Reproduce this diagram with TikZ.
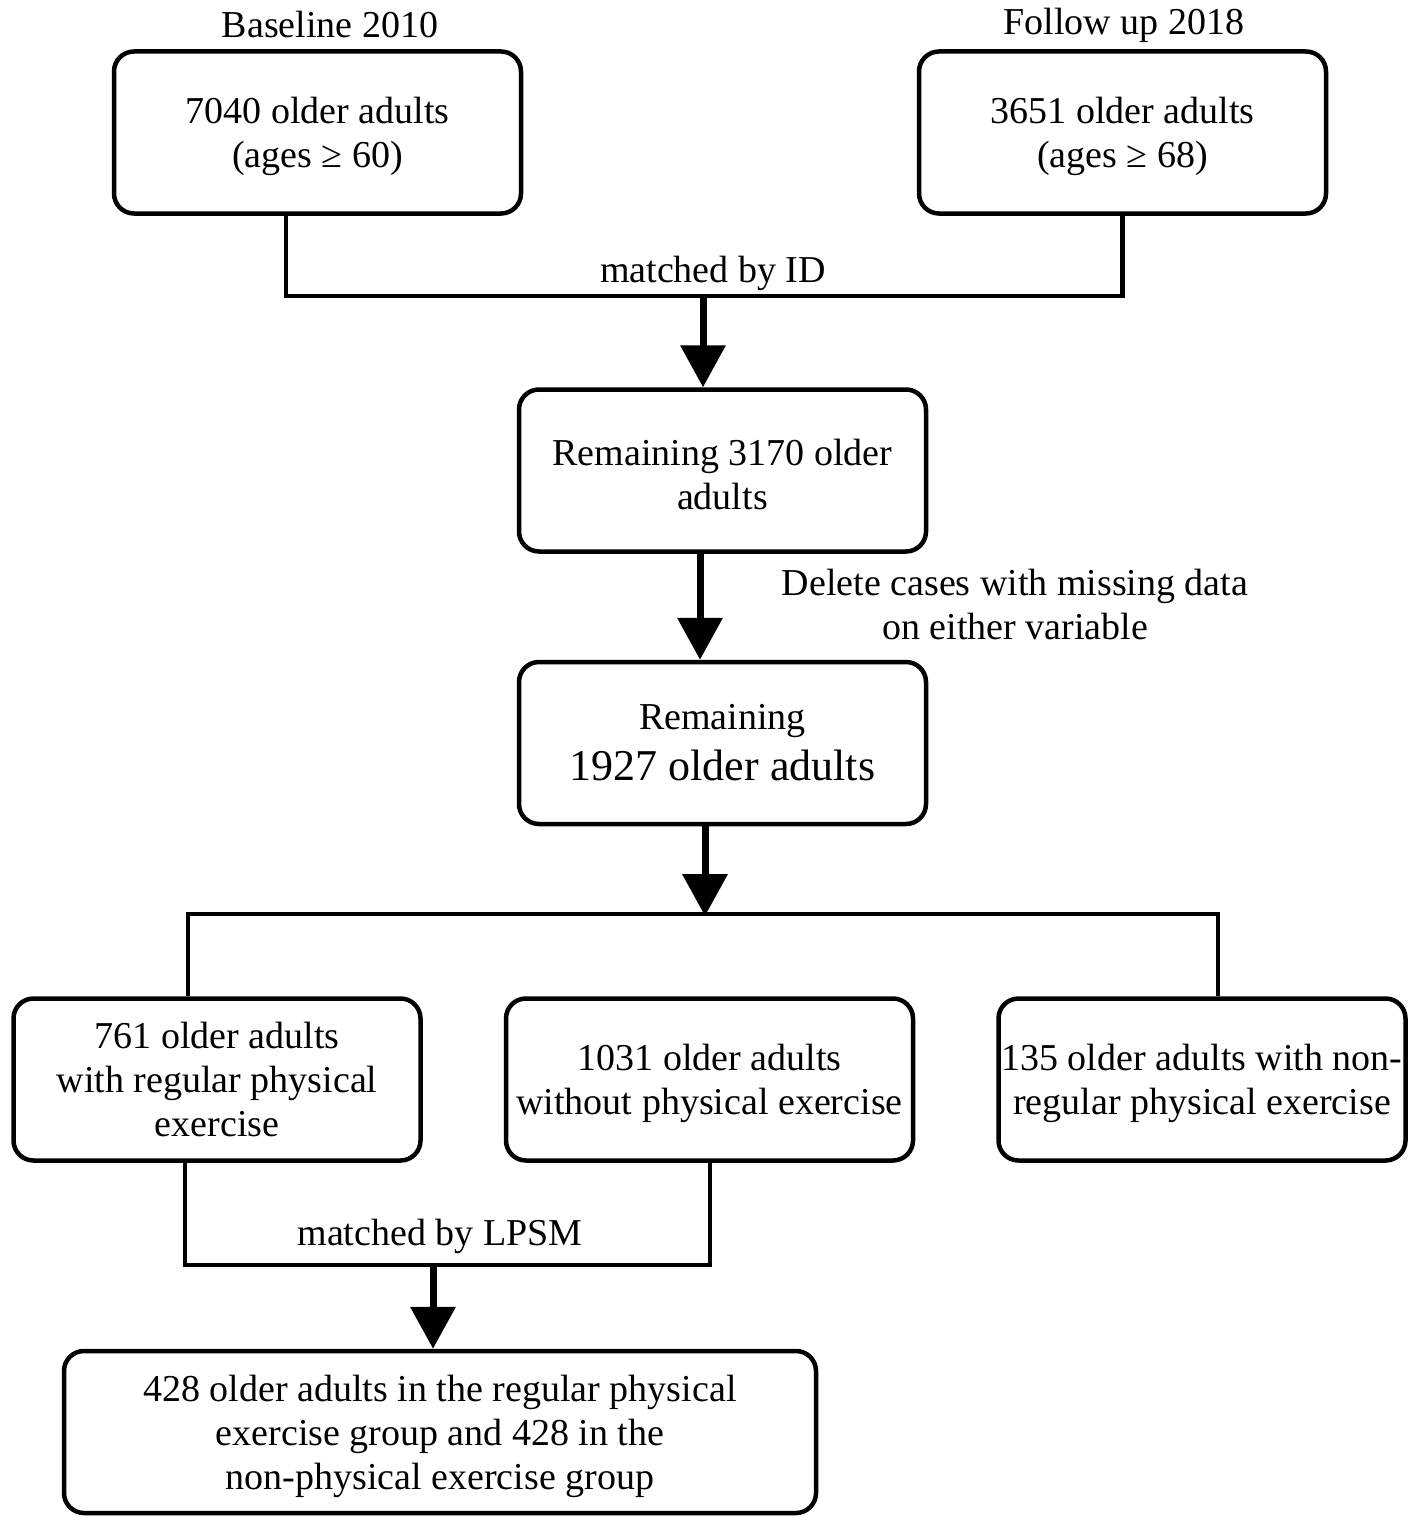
\documentclass[tikz,border=0pt]{standalone}
\usepackage{fontspec}
\setmainfont{Liberation Serif}
\usetikzlibrary{arrows.meta}
\newcommand{\lowr}{\rule{0pt}{35pt}}
\begin{document}
\begin{tikzpicture}[x=1pt,y=-1pt,
  box/.style={draw, line width=4.5pt, rounded corners=20pt, minimum width=407pt, minimum height=162pt, align=center, inner sep=0pt, font=\fontsize{38}{44}\selectfont},
  lbl/.style={align=center, inner sep=0pt, font=\fontsize{38}{44}\selectfont},
  conn/.style={line width=4.5pt},
  arr/.style={line width=7pt, -{Triangle[length=42pt,width=44pt]}}]
\useasboundingbox (0,0) rectangle (1418,1525);
\node[box] (A) at (317.5,132.5) {\lowr 7040 older adults\\(ages ≥ 60)};
\node[box] (B) at (1122.5,132.5) {\lowr 3651 older adults\\(ages ≥ 68)};
\node[lbl] (tA) at (330,25) {Baseline 2010};
\node[lbl] (tB) at (1124,25) {Follow up 2018};
\node[box] (C) at (722.5,470.5) {\lowr Remaining 3170 older\\adults};
\node[box] (D) at (722.5,743) {Remaining\\[7pt]\fontsize{44}{50}\selectfont 1927 older adults};
\node[box] (E) at (217,1079.5) {761 older adults\\with regular physical\\exercise};
\node[box] (F) at (709.5,1079.5) {\lowr 1031 older adults\\without physical exercise};
\node[box] (G) at (1202,1079.5) {\lowr 135 older adults with non-\\regular physical exercise};
\node[box, minimum width=752pt] (H) at (440,1432) {\lowr 428 older adults in the regular physical\\exercise group and 428 in the\\non-physical exercise group};
\node[lbl] (mID) at (713,273) {matched by ID};
\node[lbl] (del) at (1015,604) {Delete cases with missing data\\on either variable};
\node[lbl] (mL) at (440,1236) {matched by LPSM};
\coordinate (j1) at (703,296);
\coordinate (j2) at (705,914);
\coordinate (j3) at (433,1265);
\draw[conn] ([xshift=-31.5pt]A.south) |- (j1) -| (B.south);
\draw[arr] (j1) -- (C.north -| j1);
\draw[arr] ([xshift=-22.5pt]C.south) -- ([xshift=-22.5pt]D.north);
\draw[arr] (j2 |- D.south) -- ([yshift=-2pt]j2);
\draw[conn] ([xshift=-29pt]E.north) |- (j2) -| ([xshift=16pt]G.north);
\draw[conn] ([xshift=-32pt]E.south) |- (j3) -| ([xshift=0.5pt]F.south);
\draw[arr] (j3) -- (j3 |- H.north);
\end{tikzpicture}
\end{document}
